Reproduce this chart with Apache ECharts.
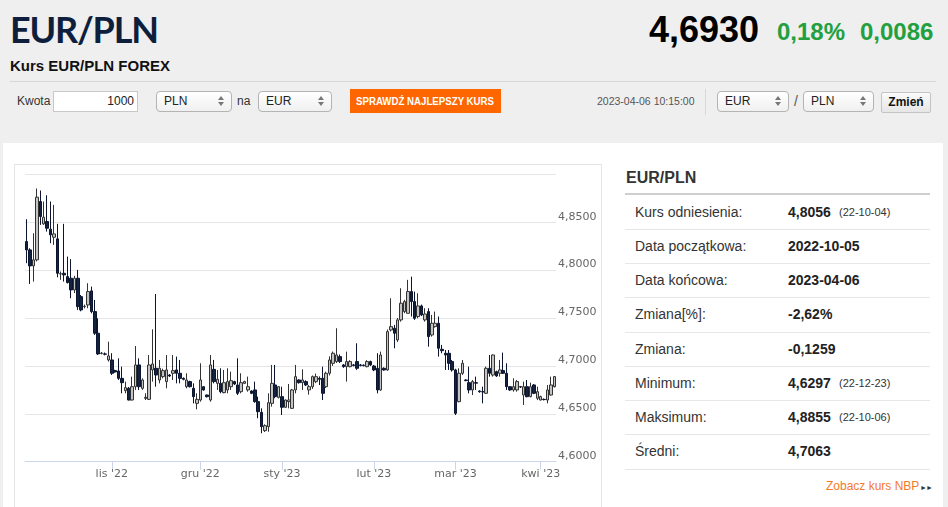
<!DOCTYPE html>
<html>
<head>
<meta charset="utf-8">
<script src="https://cdn.jsdelivr.net/npm/echarts@6/dist/echarts.min.js"></script>
<style>
  html,body{margin:0;padding:0;}
  body{width:948px;height:507px;background:#efefef;position:relative;overflow:hidden;font-family:Arial,"Liberation Sans",sans-serif;color:#333;}
  .abs{position:absolute;white-space:nowrap;}
  .sel{position:absolute;box-sizing:border-box;height:21px;border:1px solid #b4b4b4;border-radius:4px;background:linear-gradient(#ffffff,#f0f0f0);font-size:12px;line-height:19px;padding-left:7px;color:#222;}
  .sel .arr{position:absolute;right:6px;top:3px;width:7px;height:12px;}
  .sel .arr:before{content:"";position:absolute;left:0;top:1px;border-left:3.5px solid transparent;border-right:3.5px solid transparent;border-bottom:4px solid #777;}
  .sel .arr:after{content:"";position:absolute;left:0;top:7px;border-left:3.5px solid transparent;border-right:3.5px solid transparent;border-top:4px solid #777;}
  .row{position:absolute;left:625px;width:305px;height:34.25px;box-sizing:border-box;border-bottom:1px solid #e7e7e7;font-size:14px;line-height:33px;}
  .row .l{position:absolute;left:10px;color:#333;}
  .row .v{position:absolute;left:163px;font-weight:bold;color:#222;}
  .row .d{position:absolute;left:214px;font-size:11px;color:#333;}
</style>
</head>
<body>
<!-- header -->
<div class="abs" style="left:10px;top:11px;font-family:Lato,'Open Sans',sans-serif;font-weight:700;font-size:36px;line-height:36px;color:#0e1f3d;letter-spacing:-1.2px;">EUR/PLN</div>
<div class="abs" style="left:10px;top:58px;font-weight:bold;font-size:15px;line-height:15px;color:#111;letter-spacing:0px;">Kurs EUR/PLN FOREX</div>
<div class="abs" style="left:649px;top:12px;font-weight:bold;font-size:36px;line-height:36px;color:#000;">4,6930</div>
<div class="abs" style="left:777px;top:20px;font-weight:bold;font-size:24px;line-height:24px;color:#22a040;">0,18%</div>
<div class="abs" style="left:860px;top:20px;font-weight:bold;font-size:24px;line-height:24px;color:#22a040;">0,0086</div>
<div class="abs" style="left:10px;top:81px;width:926px;height:1px;background:#d6d6d6;"></div>

<!-- form row -->
<div class="abs" style="left:17px;top:91px;font-size:12px;line-height:21px;color:#333;">Kwota</div>
<div class="abs" style="left:53px;top:91px;width:85px;height:21px;box-sizing:border-box;border:1px solid #c8c8c8;background:#fff;font-size:12px;line-height:19px;text-align:right;padding-right:3px;color:#222;">1000</div>
<div class="sel" style="left:156px;top:91px;width:76px;">PLN<span class="arr"></span></div>
<div class="abs" style="left:237px;top:91px;font-size:12px;line-height:21px;color:#333;">na</div>
<div class="sel" style="left:258px;top:91px;width:74px;">EUR<span class="arr"></span></div>
<div class="abs" style="left:350px;top:89px;width:151px;height:24px;background:#ff6600;"></div>
<div class="abs" style="left:356px;top:89px;color:#fff;font-weight:bold;font-size:11px;line-height:24px;transform:scaleX(0.88);transform-origin:0 50%;">SPRAWDŹ NAJLEPSZY KURS</div>
<div class="abs" style="left:597px;top:91px;font-size:10.5px;line-height:21px;color:#555;">2023-04-06 10:15:00</div>
<div class="abs" style="left:705px;top:89px;width:1px;height:26px;background:#d8d8d8;"></div>
<div class="sel" style="left:717px;top:91px;width:72px;">EUR<span class="arr"></span></div>
<div class="abs" style="left:794px;top:91px;font-size:14px;line-height:21px;color:#555;">/</div>
<div class="sel" style="left:803px;top:91px;width:71px;">PLN<span class="arr"></span></div>
<div class="abs" style="left:881px;top:92px;width:50px;height:21px;box-sizing:border-box;border:1px solid #c4c4c4;border-radius:2px;background:linear-gradient(#fafafa,#e6e6e6);font-weight:bold;font-size:12px;line-height:19px;text-align:center;color:#111;">Zmień</div>

<!-- white panel -->
<div class="abs" style="left:3px;top:143px;width:940px;height:380px;background:#fff;"></div>
<div class="abs" style="left:14px;top:164px;width:588px;height:360px;box-sizing:border-box;border:1px solid #e4e4e4;background:#fff;"></div>
<div id="chart" style="position:absolute;left:15px;top:165px;width:586px;height:342px;"></div>

<!-- right panel -->
<div class="abs" style="left:626px;top:170px;font-weight:bold;font-size:16px;line-height:16px;color:#333;">EUR/PLN</div>
<div class="abs" style="left:625px;top:193px;width:305px;height:2px;background:#cfcfcf;"></div>
<div id="rows"></div>
<div class="abs" style="left:826px;top:479px;font-size:12px;line-height:15px;color:#f47a2a;">Zobacz kurs NBP</div>
<div class="abs" style="left:920px;top:480px;font-size:7px;line-height:15px;color:#333;letter-spacing:-1px;">►►</div>

<script>
// ---- statistics table (right panel) ----
const statLabels = ["Kurs odniesienia:", "Data początkowa:", "Data końcowa:", "Zmiana[%]:", "Zmiana:", "Minimum:", "Maksimum:", "Średni:"];
const statValues = ["4,8056", "2022-10-05", "2023-04-06", "-2,62%", "-0,1259", "4,6297", "4,8855", "4,7063"];
const statDates  = ["(22-10-04)", "", "", "", "", "(22-12-23)", "(22-10-06)", ""];

(function(){
  const host = document.getElementById('rows');
  statLabels.forEach((lab, i) => {
    const r = document.createElement('div');
    r.className = 'row';
    r.style.top = (195.5 + i * 34.25) + 'px';
    r.innerHTML = '<span class="l">' + lab + '</span><span class="v">' + statValues[i] + '</span>' +
      (statDates[i] ? '<span class="d">' + statDates[i] + '</span>' : '');
    host.appendChild(r);
  });
})();

// ---- candlestick data ----
const opens = [4.8298,4.8211,4.8044,4.8107,4.8716,4.8483,4.8507,4.8427,4.8343,4.8326,4.7960,4.7967,4.7932,4.7915,4.7793,4.7915,4.7723,4.7619,4.7636,4.7783,
4.7567,4.7341,4.7130,4.7125,4.7062,4.7062,4.6951,4.6947,4.6870,4.6742,4.6766,4.6644,4.6783,4.7010,4.6766,4.6662,4.6651,4.6958,4.6975,4.6853,
4.6888,4.6836,4.6905,4.6923,4.6958,4.6923,4.6870,4.6783,4.6836,4.6766,4.6609,4.6644,4.6783,4.6696,4.6644,4.6964,4.6818,4.6818,4.6721,4.6749,
4.6783,4.6836,4.6801,4.6731,4.6818,4.6749,4.6738,4.6749,4.6627,4.6515,4.6324,4.6366,4.6609,4.6801,4.6672,4.6679,4.6568,4.6627,4.6557,4.6749,
4.6853,4.6825,4.6836,4.6749,4.6783,4.6836,4.6870,4.6870,4.6783,4.6923,4.7027,4.7045,4.7097,4.7010,4.6992,4.6992,4.7010,4.7045,4.7010,4.7008,
4.6992,4.7045,4.6999,4.6975,4.6749,4.6975,4.6958,4.7375,4.7393,4.7271,4.7480,4.7567,4.7549,4.7776,4.7671,4.7515,4.7626,4.7480,4.7567,4.7323,
4.7410,4.7445,4.7173,4.7132,4.7132,4.7045,4.6958,4.6627,4.6923,4.6853,4.6825,4.6749,4.6825,4.6738,4.6731,4.6714,4.6975,4.6905,4.6940,4.6923,
4.6951,4.6923,4.6783,4.6749,4.6749,4.6783,4.6696,4.6783,4.6679,4.6801,4.6662,4.6644,4.6651,4.6644,4.6696,4.6783];
const closes = [4.8211,4.8044,4.8107,4.8761,4.8559,4.8552,4.8437,4.8368,4.8378,4.7967,4.7962,4.7950,4.7870,4.7793,4.7915,4.7619,4.7584,4.7622,4.7776,4.7567,
4.7341,4.7125,4.7133,4.7122,4.7104,4.6923,4.6937,4.6870,4.6825,4.6773,4.6644,4.6783,4.7010,4.6783,4.6853,4.6672,4.7010,4.7020,4.6905,4.6975,
4.6951,4.6958,4.6895,4.6951,4.6923,4.6870,4.6860,4.6853,4.6783,4.6679,4.6651,4.6853,4.6749,4.6679,4.7010,4.6836,4.6860,4.6731,4.6825,4.6836,
4.6846,4.6811,4.6714,4.6825,4.6836,4.6783,4.6714,4.6627,4.6522,4.6366,4.6376,4.6616,4.6818,4.6679,4.6783,4.6568,4.6644,4.6644,4.6749,4.6888,
4.6825,4.6853,4.6801,4.6783,4.6888,4.6888,4.6860,4.6714,4.6923,4.7062,4.7132,4.7114,4.7045,4.6992,4.7045,4.7045,4.7005,4.6975,4.7005,4.7003,
4.7045,4.7010,4.6958,4.6749,4.7114,4.6958,4.7358,4.7410,4.7341,4.7480,4.7654,4.7671,4.7776,4.7671,4.7497,4.7626,4.7532,4.7542,4.7306,4.7445,
4.7445,4.7184,4.7159,4.7114,4.7027,4.6958,4.6505,4.6923,4.7027,4.6846,4.6749,4.6836,4.6820,4.6731,4.6729,4.6975,4.6923,4.7114,4.6895,4.6958,
4.6923,4.6783,4.6749,4.6783,4.6836,4.6780,4.6783,4.6679,4.6783,4.6714,4.6731,4.6679,4.6648,4.6749,4.6801,4.6888];
const lows = [4.8072,4.7856,4.7880,4.8090,4.8472,4.8472,4.8402,4.8281,4.8263,4.7925,4.7898,4.7880,4.7860,4.7706,4.7760,4.7584,4.7570,4.7600,4.7602,4.7549,
4.7323,4.7114,4.7120,4.7110,4.7045,4.6905,4.6930,4.6853,4.6714,4.6714,4.6640,4.6640,4.6749,4.6749,4.6750,4.6644,4.6644,4.6836,4.6783,4.6818,
4.6870,4.6766,4.6885,4.6853,4.6818,4.6818,4.6850,4.6766,4.6775,4.6609,4.6547,4.6627,4.6740,4.6670,4.6627,4.6818,4.6749,4.6714,4.6714,4.6714,
4.6749,4.6800,4.6696,4.6714,4.6810,4.6731,4.6705,4.6616,4.6453,4.6297,4.6310,4.6313,4.6575,4.6662,4.6660,4.6487,4.6560,4.6557,4.6550,4.6714,
4.6815,4.6749,4.6790,4.6700,4.6760,4.6820,4.6800,4.6644,4.6770,4.6900,4.7000,4.7030,4.7030,4.6980,4.6836,4.6985,4.6995,4.6958,4.6995,4.6995,
4.6985,4.7000,4.6945,4.6714,4.6740,4.6950,4.6950,4.7360,4.7184,4.7250,4.7462,4.7550,4.7549,4.7515,4.7480,4.7497,4.7520,4.7462,4.7201,4.7306,
4.7400,4.7097,4.7132,4.6958,4.6958,4.6940,4.6487,4.6620,4.6905,4.6840,4.6714,4.6696,4.6749,4.6720,4.6609,4.6710,4.6888,4.6888,4.6885,4.6888,
4.6915,4.6749,4.6740,4.6731,4.6731,4.6770,4.6592,4.6672,4.6672,4.6705,4.6644,4.6640,4.6640,4.6609,4.6690,4.6775];
const highs = [4.8531,4.8228,4.8385,4.8852,4.8831,4.8716,4.8782,4.8716,4.8681,4.8483,4.7985,4.8483,4.8141,4.8114,4.7940,4.8002,4.7740,4.7640,4.7863,4.7828,
4.7689,4.7497,4.7145,4.7140,4.7253,4.7132,4.6960,4.7079,4.6992,4.6836,4.6780,4.6888,4.7208,4.7079,4.6870,4.6714,4.7114,4.7382,4.7751,4.7062,
4.6970,4.7114,4.6915,4.7114,4.7097,4.7062,4.6880,4.6923,4.6845,4.6818,4.6714,4.7027,4.6790,4.6700,4.7114,4.7062,4.6958,4.6975,4.6958,4.6975,
4.6940,4.6845,4.7079,4.6923,4.6845,4.6888,4.6745,4.6836,4.6679,4.6557,4.6390,4.6714,4.7010,4.7010,4.6790,4.6783,4.6650,4.6811,4.6760,4.7010,
4.6860,4.6964,4.6850,4.6800,4.6900,4.6920,4.6890,4.6992,4.6940,4.7100,4.7150,4.7393,4.7120,4.7020,4.7149,4.7060,4.7020,4.7236,4.7020,4.7015,
4.7060,4.7055,4.7010,4.7132,4.7149,4.6985,4.7380,4.7706,4.7428,4.7500,4.7811,4.7690,4.7898,4.7932,4.7776,4.7758,4.7640,4.7602,4.7602,4.7532,
4.7567,4.7515,4.7219,4.7166,4.7166,4.7062,4.6970,4.6975,4.7062,4.6860,4.6992,4.6853,4.6888,4.6745,4.6783,4.6992,4.7114,4.7120,4.6950,4.7062,
4.7139,4.7027,4.6790,4.6870,4.6853,4.6790,4.6836,4.6853,4.6825,4.6810,4.6783,4.6690,4.6660,4.6801,4.6888,4.6895];

// ---- x-axis month ticks (candle index of first session of month) ----
const tickIndex  = [25, 51, 75, 102, 126, 151];
const tickLabels = ["lis '22", "gru '22", "sty '23", "lut '23", "mar '23", "kwi '23"];

// ---- y-axis ----
const yMin = 4.6, yMax = 4.9, yStep = 0.05;

const categories = opens.map((_, i) => String(i));
const ohlc = opens.map((o, i) => [o, closes[i], lows[i], highs[i]]);

const chart = echarts.init(document.getElementById('chart'), null, {renderer: 'canvas'});
chart.setOption({
  animation: false,
  grid: {left: 10, top: 9.3, width: 531, height: 287.4, containLabel: false},
  xAxis: {
    type: 'category',
    data: categories,
    boundaryGap: true,
    axisLine: {show: true, lineStyle: {color: '#ccd6eb', width: 1}},
    axisTick: {show: true, alignWithLabel: true, length: 8, lineStyle: {color: '#ccd6eb'},
      interval: (i) => tickIndex.indexOf(i) >= 0},
    axisLabel: {show: true, interval: (i) => tickIndex.indexOf(i) >= 0,
      formatter: (v, i) => { const k = tickIndex.indexOf(i); return k >= 0 ? tickLabels[k] : ''; },
      color: '#666', fontSize: 11, fontFamily: 'DejaVu Sans', margin: 7},
    splitLine: {show: false}
  },
  yAxis: {
    type: 'value',
    position: 'right',
    min: yMin, max: yMax, interval: yStep,
    axisLine: {show: false},
    axisTick: {show: false},
    splitLine: {show: true, lineStyle: {color: '#e6e6e6', width: 1}},
    axisLabel: {show: true, showMaxLabel: false, margin: 2, color: '#666', fontSize: 11, fontFamily: 'DejaVu Sans',
      verticalAlign: 'bottom',
      formatter: (v) => v.toFixed(4).replace('.', ',')}
  },
  series: [{
    type: 'candlestick',
    data: ohlc,
    barWidth: 3,
    itemStyle: {color: '#c4c4c4', color0: '#13223f', borderColor: '#333333', borderColor0: '#0b1530', borderWidth: 1}
  }]
});
</script>
</body>
</html>
